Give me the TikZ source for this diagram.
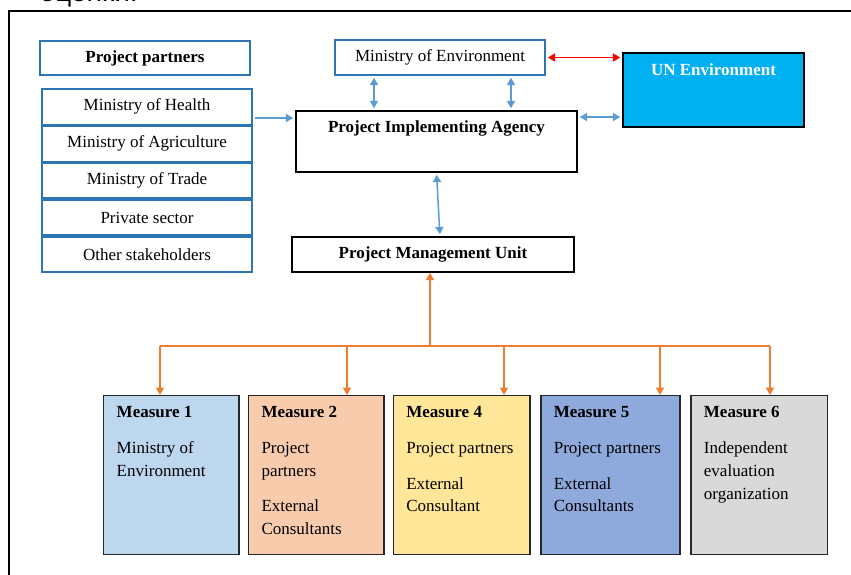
\documentclass[tikz,border=0pt]{standalone}
\usepackage{fontspec}
\setmainfont{Liberation Serif}
\newfontfamily\cyrfont{Liberation Sans}
\usepackage{tikz}
\usetikzlibrary{positioning,arrows.meta,calc}

\definecolor{boxblue}{RGB}{46,117,182}
\definecolor{arrowblue}{RGB}{91,155,213}
\definecolor{unblue}{RGB}{0,176,240}
\definecolor{orangeline}{RGB}{237,125,49}
\definecolor{mOne}{RGB}{189,215,238}
\definecolor{mTwo}{RGB}{248,203,173}
\definecolor{mFour}{RGB}{255,230,153}
\definecolor{mFive}{RGB}{142,169,219}
\definecolor{mSix}{RGB}{217,217,217}

\begin{document}
\begin{tikzpicture}[x=0.75pt,y=-0.75pt,
  every node/.style={font=\fontsize{12.75}{17}\selectfont},
  bluebox/.style={draw=boxblue, line width=1.2pt, minimum width=157.5pt, minimum height=26.5pt, inner sep=0pt},
  blackbox/.style={draw=black, line width=1.1pt, inner sep=0pt},
  measure/.style={draw=black!85, line width=1.1pt, fill=#1, inner xsep=9.75pt, inner ysep=0pt},
  bluearrow/.style={draw=arrowblue, line width=1.1pt, {Triangle[length=5.5pt,width=6pt]}-{Triangle[length=5.5pt,width=6pt]}, shorten <=1.5pt, shorten >=1.5pt},
  orangearrow/.style={draw=orangeline, line width=1.1pt, -{Triangle[length=5.5pt,width=6pt]}}
]
\useasboundingbox (0,0) rectangle (851,575);

\node[anchor=base west, font=\cyrfont\fontsize{21}{24}\selectfont] (frag) at (35,1) {оценки.};
\draw[line width=1.5pt] (860,11) -- (9,11) -- (9,585);

% partners
\node[bluebox, minimum height=25.5pt, font=\fontsize{12.75}{17}\selectfont\bfseries] (partners) at (145,58) {Project partners};
\node[bluebox] (health) at (147,106.7) {Ministry of Health};
\node[bluebox, below=0pt of health] (agri) {Ministry of Agriculture};
\node[bluebox, below=0pt of agri] (trade) {Ministry of Trade};
\node[bluebox, below=0pt of trade] (private) {Private sector};
\node[bluebox, below=0pt of private] (other) {Other stakeholders};

\node[bluebox, minimum height=26.25pt] (me) at (440,57.5) {Ministry of Environment};
\node[blackbox, minimum width=210.75pt, minimum height=45.75pt, inner ysep=3pt, text height=12.75pt, text depth=27pt, font=\fontsize{12.75}{17}\selectfont\bfseries] (pia) at (436.5,141.5) {Project Implementing Agency};
\node[blackbox, fill=unblue, text=white, minimum width=135.75pt, minimum height=55.5pt, inner ysep=3pt, text height=13.5pt, text depth=36pt, font=\fontsize{12.75}{17}\selectfont\bfseries] (un) at (713.5,90) {UN Environment};
\node[blackbox, minimum width=211.5pt, minimum height=26.25pt, font=\fontsize{12.75}{17}\selectfont\bfseries] (pmu) at (433,254.5) {Project Management Unit};

% measures
\node[measure=mOne, anchor=north west] (m1) at (103,395) {\parbox[c][119.25pt][t]{82pt}{\rule{0pt}{16.5pt}\textbf{Measure 1}\\[10pt]Ministry of\\Environment}};
\node[measure=mTwo, right=6pt of m1.north east, anchor=north west] (m2) {\parbox[c][119.25pt][t]{82pt}{\rule{0pt}{16.5pt}\textbf{Measure 2}\\[10pt]Project\\partners\\[9.5pt]External\\Consultants}};
\node[measure=mFour, right=6pt of m2.north east, anchor=north west] (m4) {\parbox[c][119.25pt][t]{83pt}{\rule{0pt}{16.5pt}\textbf{Measure 4}\\[10pt]Project partners\\[9.5pt]External\\Consultant}};
\node[measure=mFive, right=7pt of m4.north east, anchor=north west] (m5) {\parbox[c][119.25pt][t]{85pt}{\rule{0pt}{16.5pt}\textbf{Measure 5}\\[10pt]Project partners\\[9.5pt]External\\Consultants}};
\node[measure=mSix, right=7pt of m5.north east, anchor=north west] (m6) {\parbox[c][119.25pt][t]{83pt}{\rule{0pt}{16.5pt}\textbf{Measure 6}\\[10pt]Independent\\evaluation\\organization}};

% links
\draw[bluearrow, {}-{Triangle[length=5.5pt,width=6pt]}] (health.east |- 0,118) -- (pia.west |- 0,118);
\draw[bluearrow] (me.south -| 374,0) -- (pia.north -| 374,0);
\draw[bluearrow] (me.south -| 511,0) -- (pia.north -| 511,0);
\draw[bluearrow] (pia.east |- 0,117) -- (un.west |- 0,117);
\draw[bluearrow] (pia.south) -- ($(pmu.north)+(7,0)$);
\draw[bluearrow, draw=red, line width=1.3pt] (me.east) -- (un.west |- me.east);

\coordinate (bus) at (430,346);
\draw[orangeline, line width=1.1pt] (160,346) -- (770,346);
\draw[orangearrow] (bus) -- (pmu.south -| bus);
\foreach \m/\x in {m1/160, m2/347, m4/504, m5/660, m6/770} {
\draw[orangearrow] (\x,346) -- (\m.north -| \x,0);
}

\end{tikzpicture}
\end{document}
